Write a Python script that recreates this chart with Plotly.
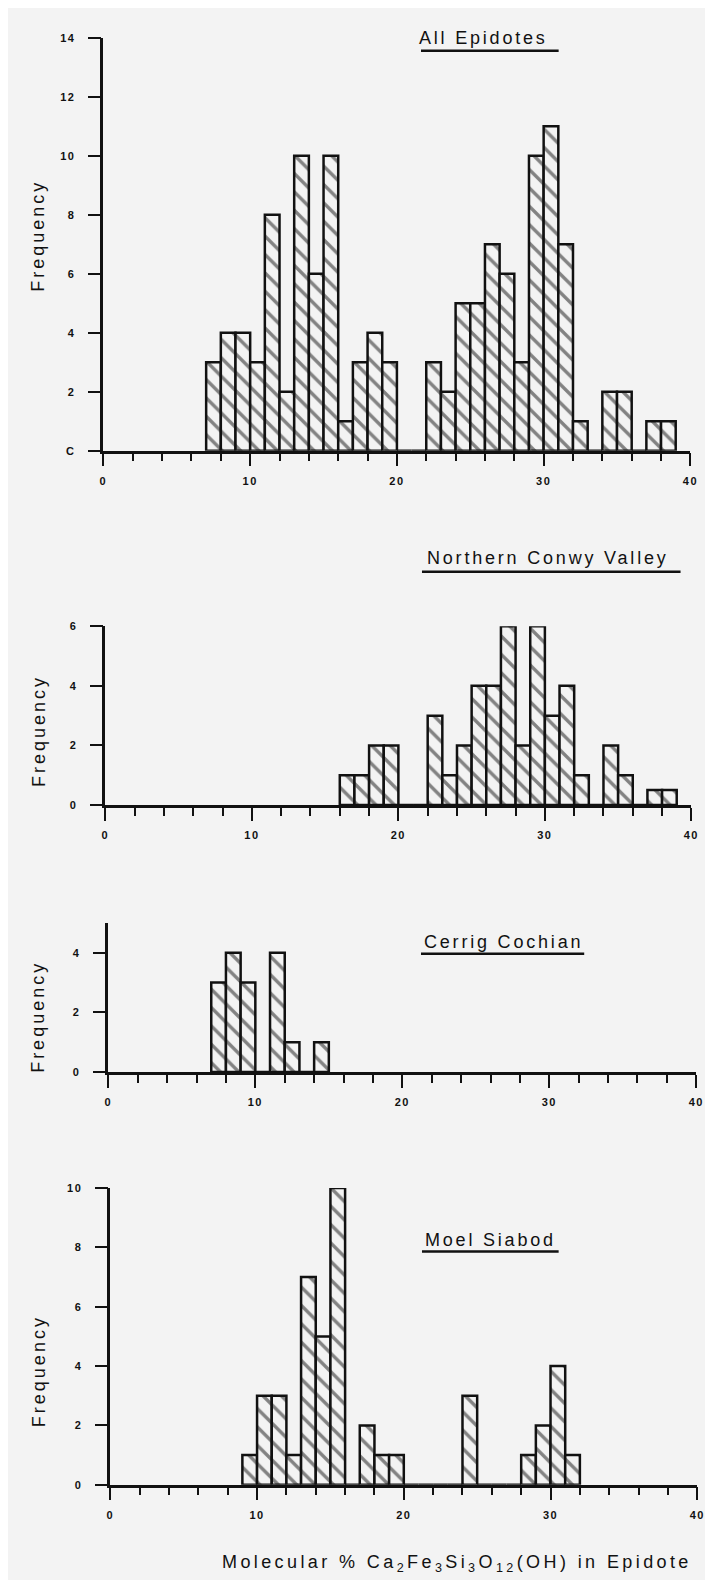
import plotly.graph_objects as go

# ---------------- data ----------------
all_bins = list(range(7, 39))
all_counts = [3, 4, 4, 3, 8, 2, 10, 6, 10, 1, 3, 4, 3, 0, 0,
              3, 2, 5, 5, 7, 6, 3, 10, 11, 7, 1, 0, 2, 2, 0, 1, 1]

conwy_bins = list(range(16, 39))
conwy_counts = [1, 1, 2, 2, 0, 0, 3, 1, 2, 4, 4, 6, 2, 6, 3, 4, 1, 0, 2, 1, 0, 0.5, 0.5]

cerrig_bins = list(range(7, 15))
cerrig_counts = [3, 4, 3, 0, 4, 1, 0, 1]

moel_bins = list(range(9, 32))
moel_counts = [1, 3, 3, 1, 7, 5, 10, 0, 2, 1, 1, 0, 0, 0, 0, 3, 0, 0, 0, 1, 2, 4, 1]

panel_titles = ["All Epidotes", "Northern Conwy Valley", "Cerrig Cochian", "Moel Siabod"]
x_ticks = [0, 10, 20, 30, 40]
y_ticks_all = [0, 2, 4, 6, 8, 10, 12, 14]
y_text_all = ["C", "2", "4", "6", "8", "10", "12", "14"]
y_ticks_conwy = [0, 2, 4, 6]
y_ticks_cerrig = [0, 2, 4]
y_ticks_moel = [0, 2, 4, 6, 8, 10]

# ---------------- styling ----------------
W, H = 713, 1580
BG = "#f3f3f3"
INK = "#111111"
FONT = "Liberation Sans, Arial, sans-serif"


def px_x(p):
    return p / W


def px_y(p):
    return 1 - p / H


def spaced(t, sp, size=None):
    st = "letter-spacing:%spx" % sp
    if size:
        st += ";font-size:%spx" % size
    return '<span style="%s">%s</span>' % (st, t)


# panel geometry in pixels: (x of 0, x of 40, y of 0, y of top, ymax)
panels = [
    (93, 690, 440, 24, 14),
    (95, 691, 797, 617, 6),
    (98, 696, 1066, 916, 5),
    (100, 697, 1482, 1183, 10),
]
series = [(all_bins, all_counts), (conwy_bins, conwy_counts),
          (cerrig_bins, cerrig_counts), (moel_bins, moel_counts)]
yticks = [(y_ticks_all, y_text_all),
          (y_ticks_conwy, [str(v) for v in y_ticks_conwy]),
          (y_ticks_cerrig, [str(v) for v in y_ticks_cerrig]),
          (y_ticks_moel, [str(v) for v in y_ticks_moel])]

fig = go.Figure()
layout = dict(
    width=W, height=H,
    margin=dict(l=0, r=0, t=0, b=0),
    paper_bgcolor=BG, plot_bgcolor=BG,
    showlegend=False,
    font=dict(family=FONT, color=INK),
)

tick_font = dict(size=11, family=FONT, color=INK, weight="bold")

for i, ((x0, x40, y0, ytop, ymax), (bins, counts), (tv, tt)) in enumerate(zip(panels, series, yticks)):
    n = "" if i == 0 else str(i + 1)
    fig.add_trace(go.Bar(
        x=bins, y=counts, width=1, offset=0,
        xaxis="x" + n, yaxis="y" + n,
        marker=dict(
            color=BG,
            line=dict(color=INK, width=2.5),
            pattern=dict(shape="\\", fgcolor=INK, bgcolor=BG, size=13, solidity=0.26),
        ),
        hoverinfo="skip",
    ))
    layout["xaxis" + n] = dict(
        domain=[px_x(x0), px_x(x40)], range=[0, 40], anchor="y" + n,
        showline=True, linecolor=INK, linewidth=2.5,
        ticks="outside", tickvals=x_ticks,
        ticktext=[spaced(str(v), 1.5) for v in x_ticks],
        ticklen=13, tickwidth=2.2, tickcolor=INK,
        minor=dict(tickvals=list(range(0, 41, 2)), ticks="outside", ticklen=8,
                   tickwidth=2.2, tickcolor=INK),
        showgrid=False, zeroline=False, ticklabelstandoff=5,
        tickfont=tick_font,
    )
    layout["yaxis" + n] = dict(
        domain=[px_y(y0), px_y(ytop)], range=[0, ymax], anchor="x" + n,
        showline=True, linecolor=INK, linewidth=2.5,
        ticks="outside", tickvals=tv, ticktext=[spaced(s, 1.5) for s in tt],
        ticklen=13, tickwidth=2.2, tickcolor=INK,
        showgrid=False, zeroline=False, ticklabelstandoff=10,
        tickfont=tick_font,
    )

fig.update_layout(**layout)

# panel titles with underlines
title_pos = [  # (x center, y center, underline x0, x1, underline y)
    (480, 24, 416, 556, 37),
    (545, 548, 417, 680, 562),
    (500, 935, 416, 582, 947),
    (487, 1235, 417, 556, 1247),
]
for t, (cx, cy, ux0, ux1, uy) in zip(panel_titles, title_pos):
    fig.add_annotation(text=spaced(t, 2.8, 18), x=px_x(cx), y=px_y(cy), xref="paper", yref="paper",
                       xanchor="center", yanchor="middle", showarrow=False,
                       font=dict(size=18, family=FONT, color=INK))
    fig.add_shape(type="line", xref="paper", yref="paper",
                  x0=px_x(ux0), x1=px_x(ux1), y0=px_y(uy), y1=px_y(uy),
                  line=dict(color=INK, width=2.5))

# y-axis labels
for cy in [224, 723, 1011, 1368]:
    fig.add_annotation(text=spaced("Frequency", 3, 18), x=px_x(27), y=px_y(cy),
                       xref="paper", yref="paper", textangle=-90,
                       xanchor="center", yanchor="middle", showarrow=False,
                       font=dict(size=18, family=FONT, color=INK))

# x-axis label
fig.add_annotation(
    text=spaced("Molecular % Ca<sub>2</sub>Fe<sub>3</sub>Si<sub>3</sub>O<sub>12</sub>(OH) in Epidote", 3.4),
    x=px_x(453), y=px_y(1561), xref="paper", yref="paper",
    xanchor="center", yanchor="middle", showarrow=False,
    font=dict(size=18, family=FONT, color=INK))

fig.write_html("out.html")
